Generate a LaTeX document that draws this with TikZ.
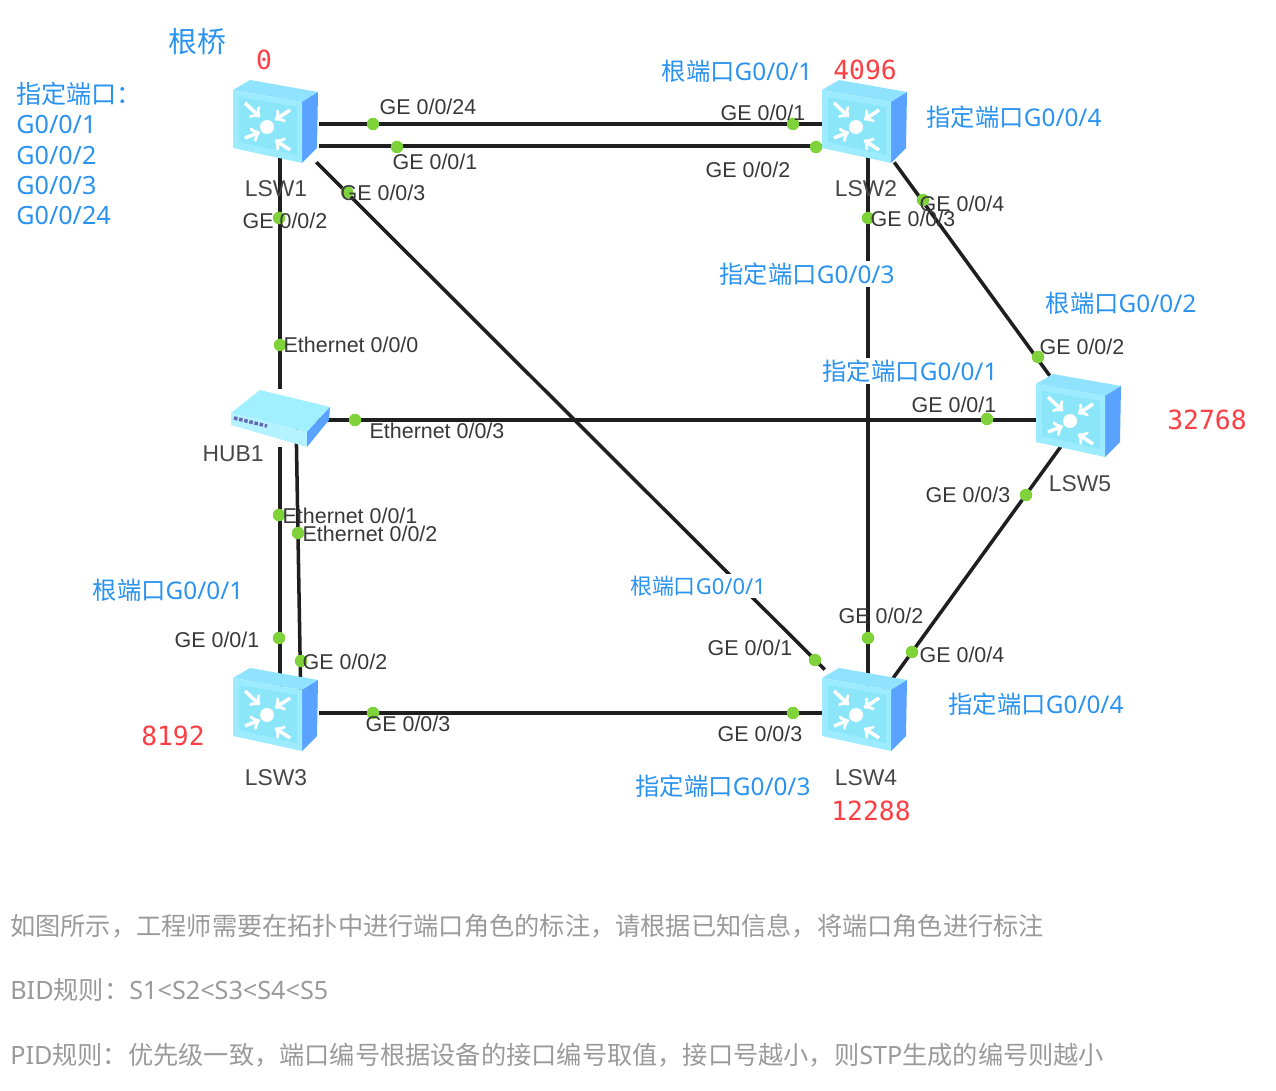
\documentclass[tikz,border=0pt]{standalone}
\usepackage{fontspec}
\setmainfont{Noto Sans}
\newfontfamily\cjkfont{Noto Sans CJK SC}
\newfontfamily\portfont{Liberation Sans}
\newfontfamily\redfont{DejaVu Sans Mono}
\newcommand{\cn}[1]{{\cjkfont #1}}
\usetikzlibrary{calc}
\definecolor{noteblue}{HTML}{2A93F0}
\definecolor{notered}{HTML}{FB3F45}
\definecolor{notegray}{HTML}{9A9A9A}
\definecolor{portdot}{HTML}{7FD23A}
\definecolor{swtop}{HTML}{8FE3FF}
\definecolor{swside}{HTML}{5AA2FF}
\definecolor{swfront}{HTML}{9CEBFF}
\definecolor{swinner}{HTML}{8CE6FA}
\definecolor{hubfront}{HTML}{B5F2FF}
\definecolor{hubtop}{HTML}{A0F0FF}
\tikzset{
    switchbox/.style={minimum width=1.72cm,minimum height=1.6cm,inner sep=0pt},
    hubbox/.style={minimum width=2cm,minimum height=1.14cm,inner sep=0pt},
    link/.style={line width=2pt,black!88},
    dot/.style={circle,fill=portdot,inner sep=0pt,minimum size=0.25cm},
    port/.style={inner sep=0pt,text=black!78,font=\portfont\fontsize{12.2}{14}\selectfont},
    devname/.style={inner sep=0pt,text=black!72,font=\portfont\fontsize{13}{15}\selectfont},
    note/.style={inner sep=1pt,fill=white,text=noteblue,font=\fontsize{13.85}{16}\selectfont},
    prio/.style={inner sep=0pt,text=notered,font=\redfont\fontsize{15}{17}\selectfont},
    rule/.style={inner sep=0pt,anchor=west,text=notegray,font=\fontsize{14.35}{17}\selectfont},
    swarrow/.style={->,white,line width=2pt},
}
\newcommand{\switchicon}[1]{
    \begin{scope}[shift={(#1)}]
        \fill[swtop] (-43,-32) -- (-26,-42) -- (42,-30) -- (26,-20) -- cycle;
        \fill[swside] (26,-20) -- (42,-30) -- (41,26) -- (26,41) -- cycle;
        \fill[swfront] (-43,-32) -- (26,-20) -- (26,41) -- (-43,26) -- cycle;
        \fill[swinner] (-37,-25) -- (21,-15) -- (21,33) -- (-37,20) -- cycle;
        \fill[white] (-9,5) circle (7);
        \draw[swarrow] (-31,-19) -- (-16,-5);
        \draw[swarrow] (14,-12) -- (-1,-2);
        \draw[swarrow] (-31,16) -- (-16,10);
        \draw[swarrow] (14,28) -- (-1,18);
    \end{scope}
}
\begin{document}
\begin{tikzpicture}[x=0.02cm,y=-0.02cm]
    \useasboundingbox (0,0) rectangle (1276,1091);
    % devices
    \node[switchbox] (lsw1) at (276,122) {};
    \node[switchbox] (lsw2) at (865,122) {};
    \node[switchbox] (lsw3) at (276,710) {};
    \node[switchbox] (lsw4) at (865,710) {};
    \node[switchbox] (lsw5) at (1079,416) {};
    \node[hubbox] (hub1) at (280,418) {};
    % links
    \draw[link] ($(lsw1.east)+(0,2)$) -- ($(lsw2.west)+(0,2)$);
    \draw[link] ($(lsw1.east)+(0,24)$) -- ($(lsw2.west)+(0,24)$);
    \draw[link] (lsw1) -- (lsw4);
    \draw[link] ($(lsw1)+(4,0)$) -- (hub1);
    \draw[link] (hub1) -- ($(lsw3)+(4,0)$);
    \draw[link] ($(hub1)+(16,0)$) -- ($(lsw3)+(25,0)$);
    \draw[link] ($(hub1)+(0,2)$) -- ($(lsw5)+(0,4)$);
    \draw[link] ($(lsw3.east)+(0,3)$) -- ($(lsw4.west)+(0,3)$);
    \draw[link] ($(lsw2)+(3,0)$) -- ($(lsw4)+(3,0)$);
    \draw[link] (lsw2) -- (lsw5);
    \draw[link] ($(lsw5)+(4,0)$) -- ($(lsw4)+(5,0)$);
    % icons
    \switchicon{lsw1}
    \switchicon{lsw2}
    \switchicon{lsw3}
    \switchicon{lsw4}
    \switchicon{lsw5}
    \begin{scope}[shift={(hub1)}]
        \fill[hubtop] (-49,-5) -- (-20,-28) -- (50,-11) -- (27,14) -- cycle;
        \fill[hubfront] (-49,-5) -- (27,14) -- (27,29) -- (-49,7) -- cycle;
        \fill[swside] (27,14) -- (50,-11) -- (49,2) -- (27,29) -- cycle;
        \draw[blue!50!black!60,line width=2pt,densely dotted] (-46,0) -- (-13,8);
    \end{scope}
    % port dots
    \foreach \x/\y [count=\i] in {373/124,793/124,397/147,816/147,347/192,279/218,280/345,355/420,
        987/419,279/515,298/533,279/638,301/661,373/713,793/713,868/218,868/638,923/200,1038/357,
        1026/495,912/652,815/660}
        \node[dot] (dot\i) at (\x,\y) {};
    % port labels
    \foreach \x/\y/\txt [count=\i] in {428/107/{GE 0/0/24},763/113/{GE 0/0/1},435/162/{GE 0/0/1},
        748/170/{GE 0/0/2},383/193/{GE 0/0/3},285/221/{GE 0/0/2},351/345/{Ethernet 0/0/0},437/431/{Ethernet 0/0/3},
        954/405/{GE 0/0/1},350/516/{Ethernet 0/0/1},370/534/{Ethernet 0/0/2},217/640/{GE 0/0/1},345/662/{GE 0/0/2},
        408/724/{GE 0/0/3},760/734/{GE 0/0/3},913/219/{GE 0/0/3},881/616/{GE 0/0/2},962/204/{GE 0/0/4},
        1082/347/{GE 0/0/2},968/495/{GE 0/0/3},962/655/{GE 0/0/4},750/648/{GE 0/0/1}}
        \node[port] (port\i) at (\x,\y) {\txt};
    % device names
    \node[devname] (name1) at (276,189) {LSW1};
    \node[devname] (name2) at (866,189) {LSW2};
    \node[devname] (name3) at (276,778) {LSW3};
    \node[devname] (name4) at (866,778) {LSW4};
    \node[devname] (name5) at (1080,484) {LSW5};
    \node[devname] (name6) at (233,454) {HUB1};
    % priorities
    \node[prio] (prio1) at (264,60) {0};
    \node[prio] (prio2) at (865,70) {4096};
    \node[prio] (prio3) at (1207,420) {32768};
    \node[prio] (prio4) at (173,736) {8192};
    \node[prio] (prio5) at (871,811) {12288};
    % notes
    \node[note,fill=none,font=\fontsize{16.4}{19}\selectfont] (root) at (197,42) {\cn{根桥}};
    \node[note,fill=none,align=left,anchor=north west,inner sep=0pt,font=\fontsize{14.3}{17.2}\selectfont] (desig1) at (16,82)
        {\cn{指定端口：}\\G0/0/1\\G0/0/2\\G0/0/3\\G0/0/24};
    \node[note] (rp2) at (737,71) {\cn{根端口}G0/0/1};
    \node[note] (dp2a) at (1014,117) {\cn{指定端口}G0/0/4};
    \node[note] (dp2b) at (807,274) {\cn{指定端口}G0/0/3};
    \node[note] (rp5) at (1121,303) {\cn{根端口}G0/0/2};
    \node[note] (dp5) at (910,371) {\cn{指定端口}G0/0/1};
    \node[note,font=\fontsize{12.5}{15}\selectfont] (rp4) at (698,586) {\cn{根端口}G0/0/1};
    \node[note] (rp3) at (168,590) {\cn{根端口}G0/0/1};
    \node[note] (dp4a) at (1036,704) {\cn{指定端口}G0/0/4};
    \node[note] (dp4b) at (723,786) {\cn{指定端口}G0/0/3};
    % rules
    \node[rule] (rule1) at (10,926) {\cn{如图所示，工程师需要在拓扑中进行端口角色的标注，请根据已知信息，将端口角色进行标注}};
    \node[rule] (rule2) at (10,990) {BID\cn{规则：}S1<S2<S3<S4<S5};
    \node[rule] (rule3) at (10,1055) {PID\cn{规则：优先级一致，端口编号根据设备的接口编号取值，接口号越小，则}STP\cn{生成的编号则越小}};
\end{tikzpicture}
\end{document}
